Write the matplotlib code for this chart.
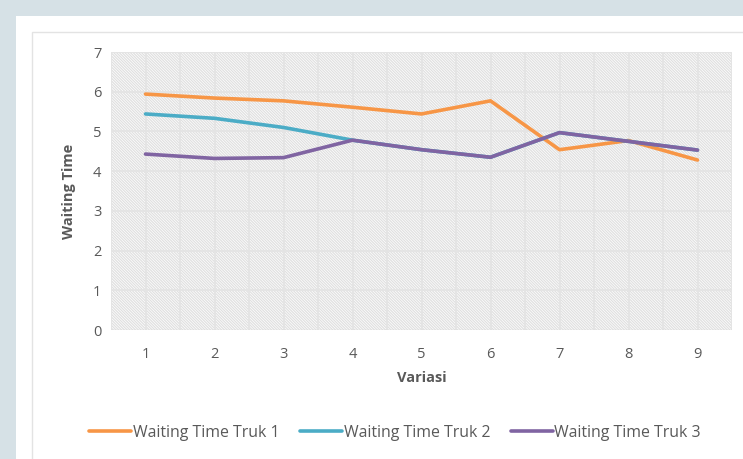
import matplotlib
matplotlib.use("Agg")
import matplotlib.pyplot as plt
from matplotlib.patches import Rectangle

variasi = [1, 2, 3, 4, 5, 6, 7, 8, 9]
truk1 = [5.94, 5.84, 5.77, 5.61, 5.44, 5.77, 4.54, 4.77, 4.28]
truk2 = [5.44, 5.33, 5.10, 4.78, 4.54, 4.35, 4.97, 4.75, 4.53]
truk3 = [4.43, 4.32, 4.34, 4.78, 4.54, 4.35, 4.97, 4.75, 4.53]
series_names = ["Waiting Time Truk 1", "Waiting Time Truk 2", "Waiting Time Truk 3"]
colors = ["#f79646", "#4bacc6", "#8064a2"]

plt.rcParams['font.family'] = ['Open Sans', 'DejaVu Sans']
plt.rcParams['hatch.color'] = "#e0e0e0"
plt.rcParams['hatch.linewidth'] = 0.9
W, H = 743, 459
fig = plt.figure(figsize=(W/100, H/100), dpi=100)
fig.patch.set_facecolor("#d6e1e6")

# white panel
fig.add_artist(Rectangle((16/W, 0), 1, 1 - 16/H, transform=fig.transFigure,
                         facecolor="white", edgecolor="none", zorder=0))
# chart border
fig.add_artist(Rectangle((32/W, -0.1), 1, 1 - 32/H + 0.1, transform=fig.transFigure,
                         facecolor="none", edgecolor="#e3e3e3", lw=1, zorder=1))

left, right, top, bottom = 111, 732, 52, 330
ax = fig.add_axes([left/W, 1 - bottom/H, (right-left)/W, (bottom-top)/H])
ax.set_facecolor("white")
ax.add_patch(Rectangle((0, 0), 1, 1, transform=ax.transAxes, facecolor="white",
                       edgecolor="#e0e0e0", hatch="\\" * 12, lw=0, zorder=0))

for y in range(1, 8):
    ax.axhline(y, color="#e4e4e4", lw=1.3, zorder=1)
for i in range(19):
    ax.axvline(0.5 + i*0.5, color="#e4e4e4", lw=1.3, zorder=1)
ax.axhline(0, color="#d9d9d9", lw=1, zorder=1)

for vals, c, name in zip([truk1, truk2, truk3], colors, series_names):
    ax.plot(variasi, vals, color=c, lw=2.6, label=name, zorder=3,
            solid_joinstyle="round", solid_capstyle="round")

ax.set_xlim(0.5, 9.5)
ax.set_ylim(0, 7)
ax.set_xticks(variasi)
ax.set_yticks(range(8))
for s in ax.spines.values():
    s.set_visible(False)
ax.tick_params(axis="both", length=0, colors="#595959", labelsize=10.5)
ax.tick_params(axis="x", pad=12)
ax.tick_params(axis="y", pad=7)
ax.set_xlabel("Variasi", fontsize=10.5, fontweight="bold", color="#595959", labelpad=7)
ax.set_ylabel("Waiting Time", fontsize=10.5, fontweight="bold", color="#595959", labelpad=12)

leg = fig.legend(loc="center", bbox_to_anchor=(395/W, 1 - 433/H), ncol=3, frameon=False,
                 fontsize=11.4, handlelength=2.65, handletextpad=0.1, columnspacing=1.3)
for line in leg.get_lines():
    line.set_linewidth(2.6)
for t in leg.get_texts():
    t.set_color("#595959")

fig.savefig("out.png", dpi=100, facecolor=fig.get_facecolor())
